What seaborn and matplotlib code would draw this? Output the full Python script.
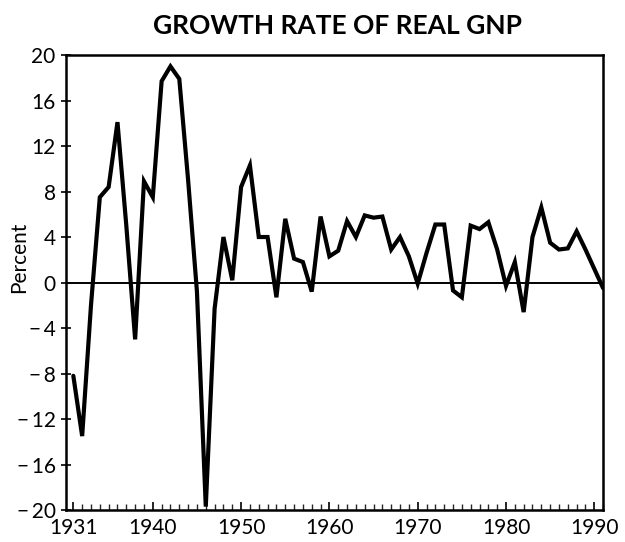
import matplotlib
matplotlib.use("Agg")
import matplotlib.pyplot as plt
import numpy as np
import pandas as pd
import seaborn as sns

# Data (annual % change in real GNP)
years = [
    1931, 1932, 1933, 1934, 1935, 1936, 1937, 1938, 1939, 1940,
    1941, 1942, 1943, 1944, 1945, 1946, 1947, 1948, 1949, 1950,
    1951, 1952, 1953, 1954, 1955, 1956, 1957, 1958, 1959, 1960,
    1961, 1962, 1963, 1964, 1965, 1966, 1967, 1968, 1969, 1970,
    1971, 1972, 1973, 1974, 1975, 1976, 1977, 1978, 1979, 1980,
    1981, 1982, 1983, 1984, 1985, 1986, 1987, 1988, 1989, 1990,
    1991,
]
growth = [
    -8.2, -13.5, -2.0, 7.5, 8.4, 14.1, 5.0, -5.0, 8.9, 7.5,
    17.7, 19.0, 17.9, 9.0, -0.8, -19.7, -2.3, 4.0, 0.2, 8.4,
    10.3, 4.0, 4.0, -1.3, 5.6, 2.1, 1.8, -0.8, 5.8, 2.3,
    2.8, 5.4, 4.0, 5.9, 5.7, 5.8, 2.9, 4.0, 2.3, -0.1,
    2.6, 5.1, 5.1, -0.7, -1.3, 5.0, 4.7, 5.3, 2.9, -0.3,
    1.8, -2.6, 4.0, 6.6, 3.5, 2.9, 3.0, 4.5, 2.9, 1.2,
    -0.5,
]
x_ticks = [1931, 1940, 1950, 1960, 1970, 1980, 1990]
y_ticks = [-20, -16, -12, -8, -4, 0, 4, 8, 12, 16, 20]

df = pd.DataFrame({"year": years, "growth": growth})

sns.set_theme(style="ticks")
plt.rcParams["font.family"] = ["Lato", "DejaVu Sans"]

fig = plt.figure(figsize=(6.25, 5.42), dpi=100)
ax = fig.add_axes([0.1056, 0.059, 0.8594, 0.8395])

ax.axhline(0, color="black", lw=1.4, zorder=1)
sns.lineplot(data=df, x="year", y="growth", color="black", lw=3.0, ax=ax,
             zorder=2, solid_joinstyle="miter")

ax.set_xlim(1930.17, 1991)
ax.set_ylim(-20, 20)

ax.set_xticks(x_ticks)
ax.set_xticklabels([str(y) for y in x_ticks])
ax.set_xticks(years, minor=True)
ax.set_yticks(y_ticks)
ax.set_yticklabels([f"\u2212\u2009{abs(v)}" if v < 0 else str(v) for v in y_ticks])

ax.tick_params(axis="x", which="major", direction="in", length=6, width=1.2,
               labelsize=15, pad=6, colors="black")
ax.tick_params(axis="x", which="minor", direction="in", length=4, width=1.0)
ax.tick_params(axis="y", direction="inout", length=7, width=1.2,
               labelsize=15, pad=4, colors="black")

for side in ["top", "bottom", "left", "right"]:
    ax.spines[side].set_visible(True)
    ax.spines[side].set_color("black")
    ax.spines[side].set_linewidth(1.8)

ax.set_xlabel("")
ax.set_ylabel("Percent", fontsize=15, color="black")
ax.yaxis.set_label_coords(-0.068, 0.555)
fig.suptitle("GROWTH RATE OF REAL GNP", x=0.54, y=0.975, fontsize=19,
             fontweight="bold", color="black")

fig.savefig("out.png", dpi=100)
